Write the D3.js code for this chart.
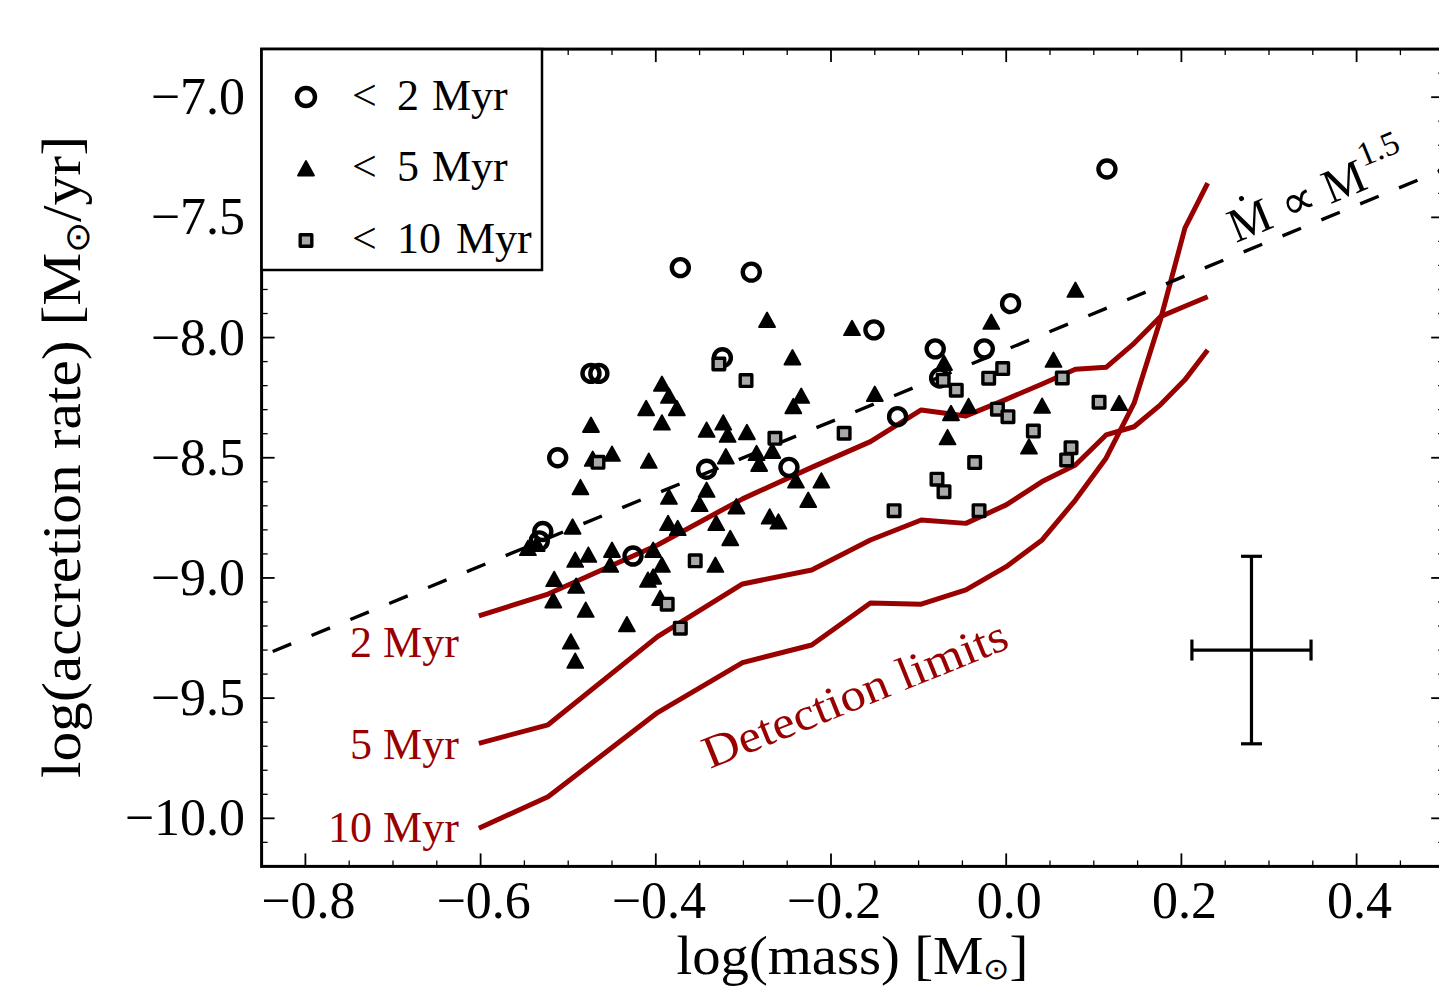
<!DOCTYPE html>
<html><head><meta charset="utf-8">
<script src="https://cdn.jsdelivr.net/npm/d3@7"></script>
<style>
body{margin:0;background:#fff}
svg{display:block}
text{font-family:"Liberation Serif","Times New Roman",serif;fill:#000}
</style>
</head><body>
<svg id="chart" width="1439" height="988"></svg>
<script>
// ---------- data (log mass, log accretion rate) ----------
const youngMass = [-0.372,-0.291,-0.324,-0.474,-0.465,-0.512,-0.342,-0.248,-0.529,-0.533,-0.426,-0.151,-0.081,-0.025,0.005,-0.076,-0.124,0.115];
const youngRate = [-7.709,-7.728,-8.084,-8.149,-8.149,-8.500,-8.548,-8.540,-8.807,-8.846,-8.909,-7.968,-8.047,-8.047,-7.859,-8.168,-8.329,-7.299];

const midMass = [-0.273,-0.244,-0.393,-0.385,-0.411,-0.376,-0.393,-0.243,-0.234,-0.474,-0.342,-0.323,-0.318,-0.296,-0.472,-0.450,-0.408,-0.320,-0.285,-0.267,-0.282,-0.240,-0.211,-0.226,-0.270,-0.260,-0.486,-0.385,-0.342,-0.350,-0.308,-0.495,-0.386,-0.375,-0.331,-0.315,-0.546,-0.536,-0.492,-0.477,-0.450,-0.452,-0.403,-0.393,-0.403,-0.409,-0.516,-0.491,-0.517,-0.480,-0.395,-0.433,-0.497,-0.492,-0.332,0.079,-0.017,-0.176,-0.071,0.054,-0.150,-0.063,-0.043,0.041,0.129,-0.067,0.026];
const midRate = [-7.927,-8.083,-8.193,-8.243,-8.294,-8.294,-8.354,-8.286,-8.243,-8.364,-8.384,-8.354,-8.405,-8.394,-8.505,-8.484,-8.513,-8.495,-8.481,-8.472,-8.526,-8.595,-8.595,-8.676,-8.745,-8.766,-8.623,-8.663,-8.634,-8.693,-8.703,-8.787,-8.772,-8.793,-8.772,-8.835,-8.876,-8.859,-8.925,-8.904,-8.884,-8.946,-8.884,-8.946,-8.995,-9.008,-9.005,-9.033,-9.094,-9.133,-9.084,-9.193,-9.265,-9.345,-8.946,-7.802,-7.935,-7.961,-8.106,-8.093,-8.235,-8.315,-8.285,-8.284,-8.273,-8.415,-8.454];

const oldMass = [-0.328,-0.297,-0.466,-0.264,-0.355,-0.387,-0.372,-0.004,-0.020,-0.072,-0.057,0.064,-0.010,0.002,0.106,-0.185,0.031,0.074,0.069,-0.036,-0.079,-0.071,-0.128,-0.031];
const oldRate = [-8.110,-8.179,-8.519,-8.419,-8.929,-9.109,-9.209,-8.129,-8.169,-8.178,-8.219,-8.168,-8.298,-8.329,-8.269,-8.398,-8.389,-8.458,-8.509,-8.520,-8.589,-8.641,-8.720,-8.720];

// detection limit curves
const limitMass = [-0.602,-0.523,-0.398,-0.301,-0.222,-0.155,-0.097,-0.046,0.000,0.041,0.079,0.114,0.146,0.176,0.204,0.230];
const limit2 = [-9.158,-9.067,-8.863,-8.671,-8.540,-8.433,-8.301,-8.326,-8.257,-8.193,-8.132,-8.124,-8.024,-7.913,-7.870,-7.830];
const limit5 = [-9.688,-9.611,-9.244,-9.025,-8.967,-8.842,-8.759,-8.773,-8.696,-8.599,-8.530,-8.405,-8.371,-8.280,-8.176,-8.052];
const limit10 = [-10.041,-9.910,-9.560,-9.352,-9.279,-9.104,-9.109,-9.050,-8.953,-8.842,-8.676,-8.502,-8.273,-7.927,-7.545,-7.358];
const limitLabels = ["2 Myr","5 Myr","10 Myr"];

// power-law relation endpoints
const powMass = [-0.85, 0.5];
const powRate = [-9.325, -7.300];

// typical error bar
const errMass = [0.28], errRate = [-9.30], errMassErr = [0.068], errRateErr = [0.39];

// ticks
const xTicks = [-0.8,-0.6,-0.4,-0.2,0.0,0.2,0.4];
const yTicks = [-7.0,-7.5,-8.0,-8.5,-9.0,-9.5,-10.0];
const legendLabels = [["2","Myr"],["5","Myr"],["10","Myr"]];

// ---------- drawing ----------
const svg = d3.select("#chart");
const L = 261.6, R = 1444.2, T = 49.1, B = 866.4;
const x = d3.scaleLinear().domain([-0.85,0.5]).range([L,R]);
const y = d3.scaleLinear().domain([-10.2,-6.8]).range([B,T]);
const red = "#990000";
const fmt = v => (v < 0 ? "\u2212" : "") + Math.abs(v).toFixed(1);

svg.append("defs").append("clipPath").attr("id","clip")
  .append("rect").attr("x",L).attr("y",T).attr("width",R-L).attr("height",B-T);
const plot = svg.append("g").attr("clip-path","url(#clip)");

// detection limits
const line = d3.line().x(d=>x(d[0])).y(d=>y(d[1]));
[limit2, limit5, limit10].forEach(arr=>{
  plot.append("path").attr("d", line(limitMass.map((m,i)=>[m,arr[i]])))
    .attr("fill","none").attr("stroke",red).attr("stroke-width",5).attr("stroke-linejoin","round");
});
const limStarts = [limit2[0], limit5[0], limit10[0]];
limitLabels.forEach((t,i)=>{
  svg.append("text").attr("x", x(limitMass[0]) - 20).attr("y", y(limStarts[i]) + [41,16,14][i])
    .attr("text-anchor","end").attr("font-size",44).style("fill",red).text(t);
});

// power-law dashed
plot.append("path").attr("d", line(powMass.map((m,i)=>[m,powRate[i]])))
  .attr("fill","none").attr("stroke","#000").attr("stroke-width",3.4).attr("stroke-dasharray","20,22").attr("stroke-dashoffset",-12);

// text along power law
const ang = Math.atan2(y(powRate[0]) - y(powRate[1]), x(powMass[1]) - x(powMass[0])) * 180/Math.PI;
const gp = svg.append("g").attr("transform", `translate(1236,243) rotate(${-ang})`);
const tp = gp.append("text").attr("font-size",48);
tp.append("tspan").attr("x",0).text("M");
tp.append("tspan").attr("x",56).text("\u221D");
tp.append("tspan").attr("x",102).text("M");
tp.append("tspan").attr("x",146).attr("dy",-22).attr("font-size",34).text("1.5");
gp.append("circle").attr("cx",22).attr("cy",-39).attr("r",2.5).attr("fill","#000");

// detection limits text
svg.append("text").attr("transform","translate(710,769) rotate(-22)")
  .attr("font-size",46).attr("textLength",325).attr("lengthAdjust","spacingAndGlyphs")
  .style("fill",red).text("Detection limits");

// points
const circleData = youngMass.map((m,i)=>[m,youngRate[i]]);
const triData = midMass.map((m,i)=>[m,midRate[i]]);
const sqData = oldMass.map((m,i)=>[m,oldRate[i]]);
const triPath = "M0,-7.5L8,7L-8,7Z";

function drawCircle(sel, r){ sel.attr("r",r||8.5).attr("fill","none").attr("stroke","#000").attr("stroke-width",4.4); }
function drawTri(sel){ sel.attr("d",triPath).attr("fill","#000").attr("stroke","#000").attr("stroke-width",1.8).attr("stroke-linejoin","round"); }
function drawSq(sel){ sel.attr("x",-5.8).attr("y",-5.8).attr("width",11.6).attr("height",11.6).attr("fill","#a9a9a9").attr("stroke","#000").attr("stroke-width",3.4).attr("stroke-linejoin","round"); }

plot.selectAll(".c").data(circleData).join("circle").attr("class","c")
  .attr("cx",d=>x(d[0])).attr("cy",d=>y(d[1])).call(drawCircle);
plot.selectAll(".t").data(triData).join("path").attr("class","t")
  .attr("transform",d=>`translate(${x(d[0])},${y(d[1])})`).call(drawTri);
plot.selectAll(".s").data(sqData).join("rect").attr("class","s")
  .attr("transform",d=>`translate(${x(d[0])},${y(d[1])})`).call(drawSq);

// error bar
const eb = svg.append("g").attr("stroke","#000").attr("stroke-width",3.2);
errMass.forEach((m,i)=>{
  const cx = x(m), cy = y(errRate[i]);
  const x0 = x(m-errMassErr[i]), x1 = x(m+errMassErr[i]);
  const y0 = y(errRate[i]-errRateErr[i]), y1 = y(errRate[i]+errRateErr[i]);
  eb.append("line").attr("x1",x0).attr("x2",x1).attr("y1",cy).attr("y2",cy);
  eb.append("line").attr("x1",cx).attr("x2",cx).attr("y1",y0).attr("y2",y1);
  eb.append("line").attr("x1",x0).attr("x2",x0).attr("y1",cy-10.5).attr("y2",cy+10.5);
  eb.append("line").attr("x1",x1).attr("x2",x1).attr("y1",cy-10.5).attr("y2",cy+10.5);
  eb.append("line").attr("x1",cx-10.5).attr("x2",cx+10.5).attr("y1",y0).attr("y2",y0);
  eb.append("line").attr("x1",cx-10.5).attr("x2",cx+10.5).attr("y1",y1).attr("y2",y1);
});

// ticks (inward, all sides)
const tk = svg.append("g").attr("stroke","#000");
const xMinor = d3.range(-0.85, 0.5001, 0.05).filter(v=>!xTicks.some(t=>Math.abs(t-v)<1e-6));
const yMinor = d3.range(-10.2, -6.7999, 0.1).filter(v=>!yTicks.some(t=>Math.abs(t-v)<1e-6));
xTicks.forEach(v=>{
  tk.append("line").attr("x1",x(v)).attr("x2",x(v)).attr("y1",B).attr("y2",B-13).attr("stroke-width",1.8);
  tk.append("line").attr("x1",x(v)).attr("x2",x(v)).attr("y1",T).attr("y2",T+13).attr("stroke-width",1.8);
});
xMinor.forEach(v=>{
  tk.append("line").attr("x1",x(v)).attr("x2",x(v)).attr("y1",B).attr("y2",B-6).attr("stroke-width",1.3);
  tk.append("line").attr("x1",x(v)).attr("x2",x(v)).attr("y1",T).attr("y2",T+6).attr("stroke-width",1.3);
});
yTicks.forEach(v=>{
  tk.append("line").attr("y1",y(v)).attr("y2",y(v)).attr("x1",L).attr("x2",L+13).attr("stroke-width",1.8);
  tk.append("line").attr("y1",y(v)).attr("y2",y(v)).attr("x1",R).attr("x2",R-13).attr("stroke-width",1.8);
});
yMinor.forEach(v=>{
  tk.append("line").attr("y1",y(v)).attr("y2",y(v)).attr("x1",L).attr("x2",L+6).attr("stroke-width",1.3);
  tk.append("line").attr("y1",y(v)).attr("y2",y(v)).attr("x1",R).attr("x2",R-6).attr("stroke-width",1.3);
});

// tick labels
xTicks.forEach(v=>{
  svg.append("text").attr("x",x(v)+3).attr("y",918).attr("text-anchor","middle").attr("font-size",52).text(fmt(v));
});
yTicks.forEach(v=>{
  svg.append("text").attr("x",245).attr("y",y(v)+17).attr("text-anchor","end").attr("font-size",52).text(fmt(v));
});

// frame
svg.append("rect").attr("x",L).attr("y",T).attr("width",R-L).attr("height",B-T)
  .attr("fill","none").attr("stroke","#000").attr("stroke-width",3);

// axis labels
const xl = svg.append("text").attr("x",(675+1030)/2).attr("y",974).attr("text-anchor","middle").attr("font-size",54)
  .attr("textLength",352).attr("lengthAdjust","spacingAndGlyphs");
xl.append("tspan").text("log(mass) [M");
xl.append("tspan").attr("font-size",30).attr("dy",5).text("\u2299");
xl.append("tspan").attr("dy",-5).text("]");

const yl = svg.append("text").attr("transform","translate(80,457) rotate(-90)").attr("text-anchor","middle").attr("font-size",54)
  .attr("textLength",642).attr("lengthAdjust","spacingAndGlyphs");
yl.append("tspan").text("log(accretion rate) [M");
yl.append("tspan").attr("font-size",34).attr("dy",9).text("\u2299");
yl.append("tspan").attr("dy",-9).text("/yr]");

// legend
const lg = svg.append("g");
lg.append("rect").attr("x",L).attr("y",T).attr("width",542-L).attr("height",270-T)
  .attr("fill","#fff").attr("stroke","#000").attr("stroke-width",2.5);
lg.append("circle").attr("cx",306).attr("cy",97).call(drawCircle, 9);
lg.append("path").attr("transform","translate(306,168.5)").call(drawTri);
lg.append("rect").attr("transform","translate(306,240.5)").call(drawSq);
const legY = [110, 181, 253];
legendLabels.forEach((p,i)=>{
  const t = lg.append("text").attr("font-size",44).attr("y",legY[i]);
  t.append("tspan").attr("x",352).text("<");
  t.append("tspan").attr("x",397).text(p[0]);
  t.append("tspan").attr("x",p[0].length>1?456:432).text(p[1]);
});
</script>
</body></html>
